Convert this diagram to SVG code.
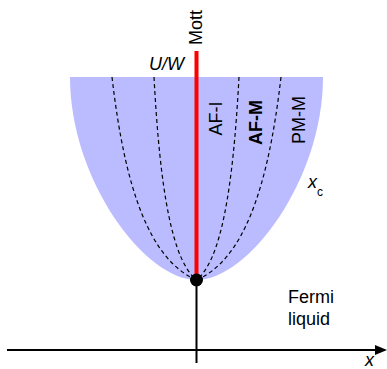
<svg xmlns="http://www.w3.org/2000/svg" width="387" height="369" viewBox="0 0 387 369">
<style>
text{font-family:"Liberation Sans",Arial,sans-serif;font-size:18px;fill:#000}
.it{font-style:italic}
.dash{fill:none;stroke:#000;stroke-width:1.2;stroke-dasharray:4 3}
.ax{stroke:#000;stroke-width:2;fill:none}
</style>
<rect width="387" height="369" fill="#fff"/>
<g id="region">
<path d="M70,77 C70,180 145,280 196.5,280 C248,280 323,180 323,77 Z" fill="#bbbbff"/>
</g>
<g id="connectors">
<path class="dash" d="M112,77 C125,190 150,260 196.5,280"/>
<path class="dash" d="M154,77 C160,190 172,260 196.5,280"/>
<path class="dash" d="M281,77 C268,190 243,260 196.5,280"/>
<path class="dash" d="M239,77 C233,190 221,260 196.5,280"/>
<line class="ax" x1="196.5" y1="280" x2="196.5" y2="363"/>
<line class="ax" x1="7" y1="350" x2="376" y2="350"/>
<polygon points="375,345 387,350 375,355" fill="#000"/>
<line x1="196.5" y1="51" x2="196.5" y2="280" stroke="#ff0000" stroke-width="4"/>
</g>
<g id="critical-point"><circle cx="196.5" cy="280" r="6.5" fill="#000"/></g>
<g id="labels">
<text transform="translate(202,27.5) rotate(-90)" text-anchor="middle">Mott</text>
<text class="it" x="149" y="70">U/W</text>
<text transform="translate(222,118.5) rotate(-90)" text-anchor="middle">AF-I</text>
<text transform="translate(262,122.5) rotate(-90)" text-anchor="middle" font-weight="bold">AF-M</text>
<text transform="translate(305,120) rotate(-90)" text-anchor="middle">PM-M</text>
<text x="308" y="188"><tspan class="it">x</tspan><tspan font-size="12" dy="8">c</tspan></text>
<text x="288" y="303">Fermi</text>
<text x="288" y="325">liquid</text>
<text class="it" x="365" y="366">x</text>
</g>
</svg>
